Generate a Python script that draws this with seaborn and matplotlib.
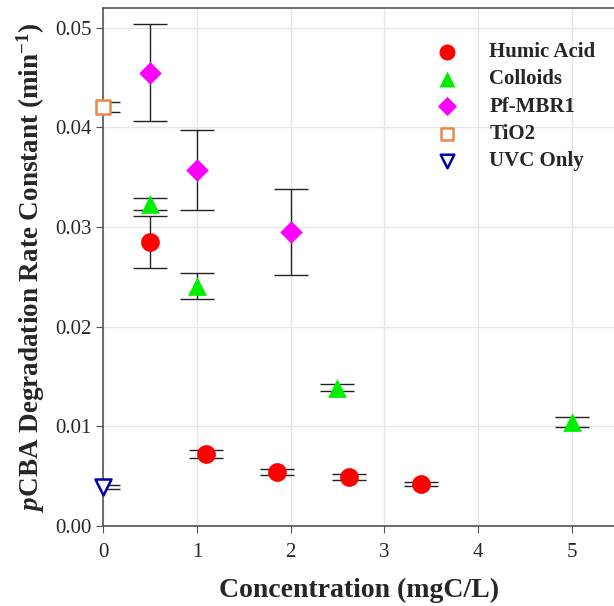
import matplotlib
matplotlib.use("Agg")
import matplotlib.pyplot as plt
import seaborn as sns
import pandas as pd

# values
humic_x = [0.5, 1.1, 1.86, 2.62, 3.39]
humic_y = [0.0285, 0.0072, 0.0054, 0.0049, 0.0042]
humic_err = [0.0026, 0.0004, 0.0003, 0.0003, 0.0002]

colloid_x = [0.5, 1.0, 2.5, 5.0]
colloid_y = [0.0323, 0.0241, 0.0139, 0.0104]
colloid_err = [0.0006, 0.0013, 0.0004, 0.0005]

mbr_x = [0.5, 1.0, 2.0]
mbr_y = [0.0455, 0.0357, 0.0295]
mbr_err = [0.0049, 0.0040, 0.0043]

tio2_x = [0.0]
tio2_y = [0.0421]
tio2_err = [0.0005]

uvc_x = [0.0]
uvc_y = [0.0039]
uvc_err = [0.0002]

sns.set_style("whitegrid")
plt.rcParams['font.family'] = ['Liberation Serif', 'DejaVu Serif']
plt.rcParams['mathtext.fontset'] = 'custom'
plt.rcParams['mathtext.rm'] = 'Liberation Serif:bold'
plt.rcParams['mathtext.it'] = 'Liberation Serif:italic:bold'

fig = plt.figure(figsize=(6.14, 6.06), dpi=100)
ax = fig.add_axes([0.168, 0.132, 0.832, 0.855])

series = [
    ("Humic Acid", humic_x, humic_y, humic_err, "o", "#ff0000", "#ff0000", 13.5),
    ("Colloids", colloid_x, colloid_y, colloid_err, "^", "#00ee00", "#00ee00", 13.5),
    ("Pf-MBR1", mbr_x, mbr_y, mbr_err, "D", "#ff00ff", "#ff00ff", 11.5),
    ("TiO2", tio2_x, tio2_y, tio2_err, "s", "white", "#e8884a", 10.5),
    ("UVC Only", uvc_x, uvc_y, uvc_err, "v", "white", "#0000aa", 11.5),
]

for name, x, y, err, mk, fc, ec, ms in series:
    ax.errorbar(x, y, yerr=err, fmt="none", ecolor="#222222", elinewidth=1,
                capsize=12, capthick=1, zorder=2)
    df = pd.DataFrame({"x": x, "y": y})
    sns.scatterplot(data=df, x="x", y="y", marker=mk, s=ms ** 2,
                    facecolor=fc, edgecolor=ec, linewidth=1.8 if fc == "white" else 0,
                    label=name, ax=ax, zorder=3, clip_on=False)

ax.set_xlim(0, 5.45)
ax.set_ylim(0, 0.052)
ax.set_xticks([0, 1, 2, 3, 4, 5])
ax.set_yticks([0.0, 0.01, 0.02, 0.03, 0.04, 0.05])
ax.set_yticklabels(["0.00", "0.01", "0.02", "0.03", "0.04", "0.05"])
ax.tick_params(labelsize=15, length=5, color="#555555", left=True, bottom=True)
ax.tick_params(axis="x", pad=7)
ax.grid(color="#e6e6e6", linewidth=1)

for side in ["left", "bottom", "top"]:
    ax.spines[side].set_color("#555555")
    ax.spines[side].set_linewidth(1.2)
ax.spines["right"].set_visible(False)

ax.set_xlabel("Concentration (mgC/L)", fontsize=20, fontweight="bold", labelpad=12)
ax.set_ylabel("$p$CBA Degradation Rate Constant (min$^{-1}$)", fontsize=19.5,
              fontweight="bold", labelpad=6)

leg = ax.legend(loc="upper right", bbox_to_anchor=(1.0, 0.97), frameon=False,
                prop={"weight": "bold", "size": 15}, handletextpad=1.0,
                labelspacing=0.35, markerscale=0.85)

fig.savefig("out.png", dpi=100)
